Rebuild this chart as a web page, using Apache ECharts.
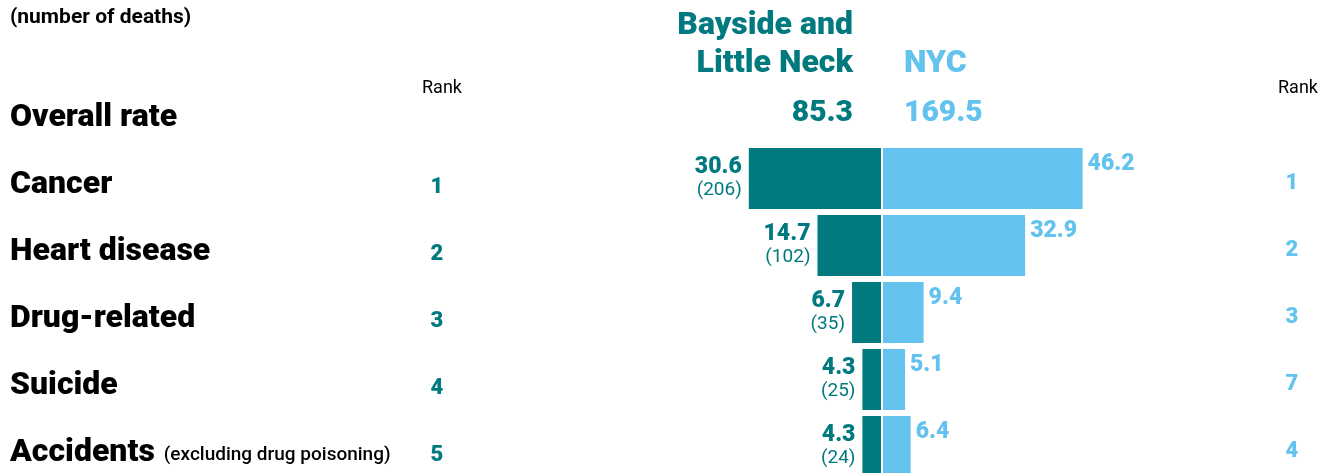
<!DOCTYPE html>
<html>
<head>
<meta charset="utf-8">
<script src="https://cdn.jsdelivr.net/npm/echarts@6/dist/echarts.min.js"></script>
<style>
  html, body { margin: 0; padding: 0; background: #fff; }
  #chart { width: 1325px; height: 473px; }
</style>
</head>
<body>
<div id="chart"></div>
<script>
// Leading causes of death: local rate vs. citywide rate
const causes = ['Cancer', 'Heart disease', 'Drug-related', 'Suicide', 'Accidents'];
const causeNotes = ['', '', '', '', '(excluding drug poisoning)'];
const localRates = [30.6, 14.7, 6.7, 4.3, 4.3];
const localDeaths = [206, 102, 35, 25, 24];
const nycRates = [46.2, 32.9, 9.4, 5.1, 6.4];
const localRanks = [1, 2, 3, 4, 5];
const nycRanks = [1, 2, 3, 7, 4];
const overallLocal = 85.3;
const overallNyc = 169.5;
const localName = 'Bayside and\nLittle Neck';
const nycName = 'NYC';

const TEAL = '#00797f';
const SKY = '#63c2ee';
const FONT = 'Roboto, "Noto Sans", sans-serif';

// first row carries the overall rate only, no bars
const rows = ['Overall rate'].concat(causes);
const localData = [null].concat(localRates);
const nycData = [null].concat(nycRates);

const chart = echarts.init(document.getElementById('chart'), null, { renderer: 'canvas' });

const hiddenValueAxis = (grid, inverse) => ({
  type: 'value', gridIndex: grid, min: 0, max: 50, inverse: inverse,
  axisLine: { show: false }, axisTick: { show: false },
  axisLabel: { show: false }, splitLine: { show: false }
});

const catAxisBase = (grid, position) => ({
  type: 'category', gridIndex: grid, data: rows, inverse: true, position: position,
  axisLine: { show: false }, axisTick: { show: false }, splitLine: { show: false }
});

const headerText = (text, x, y, color, align, size) => ({
  type: 'text', x: x, y: y, silent: true,
  style: {
    text: text, fill: color, align: align, verticalAlign: 'middle',
    font: '900 ' + size + 'px ' + FONT
  }
});

chart.setOption({
  animation: false,
  backgroundColor: '#fff',
  grid: [
    { left: 665, width: 216, top: 78, height: 402, outerBoundsMode: 'none' },
    { left: 883, width: 216, top: 78, height: 402, outerBoundsMode: 'none' }
  ],
  xAxis: [hiddenValueAxis(0, true), hiddenValueAxis(1, false)],
  yAxis: [
    Object.assign(catAxisBase(0, 'left'), {
      axisLabel: {
        interval: 0, margin: 655, align: 'left', padding: [12, 0, 0, 0],
        formatter: (v, i) => {
          const note = i > 0 ? causeNotes[i - 1] : '';
          return note ? '{b|' + v + '}{s|' + note + '}' : '{b|' + v + '}';
        },
        rich: {
          b: { fontFamily: FONT, fontWeight: 900, fontSize: 32, color: '#000' },
          s: { fontFamily: FONT, fontWeight: 500, fontSize: 19, color: '#000', padding: [6, 0, 0, 9] }
        }
      }
    }),
    Object.assign(catAxisBase(0, 'left'), {
      axisLabel: {
        interval: 0, margin: 228, align: 'center', verticalAlign: 'top', lineHeight: 17,
        color: TEAL, fontFamily: FONT, fontWeight: 900, fontSize: 22,
        formatter: (v, i) => (i > 0 ? String(localRanks[i - 1]) : '')
      }
    }),
    Object.assign(catAxisBase(1, 'right'), {
      axisLabel: {
        interval: 0, margin: 193, align: 'center', verticalAlign: 'top', lineHeight: 9,
        color: SKY, fontFamily: FONT, fontWeight: 900, fontSize: 22,
        formatter: (v, i) => (i > 0 ? String(nycRanks[i - 1]) : '')
      }
    })
  ],
  series: [
    {
      type: 'bar', xAxisIndex: 0, yAxisIndex: 0, data: localData,
      barWidth: 61, itemStyle: { color: TEAL },
      label: {
        show: true, position: 'left', distance: 7, align: 'right',
        formatter: p => '{v|' + p.value + '}\n{n|(' + localDeaths[p.dataIndex - 1] + ')}',
        rich: {
          v: { fontFamily: FONT, fontWeight: 900, fontSize: 23, lineHeight: 24, color: TEAL, align: 'right' },
          n: { fontFamily: FONT, fontWeight: 400, fontSize: 19, lineHeight: 22, color: TEAL, align: 'right' }
        }
      }
    },
    {
      type: 'bar', xAxisIndex: 1, yAxisIndex: 2, data: nycData,
      barWidth: 61, itemStyle: { color: SKY },
      label: {
        show: true, position: 'right', distance: 5, offset: [0, -14],
        color: SKY, fontFamily: FONT, fontWeight: 900, fontSize: 23
      }
    }
  ],
  graphic: [
    {
      type: 'text', x: 10, y: 18, silent: true,
      style: { text: '(number of deaths)', fill: '#000', verticalAlign: 'middle',
               font: '700 21px ' + FONT }
    },
    headerText(localName.split('\n')[0], 853, 26, TEAL, 'right', 32),
    headerText(localName.split('\n')[1], 853, 64, TEAL, 'right', 32),
    headerText(nycName, 904, 64, SKY, 'left', 32),
    headerText(String(overallLocal), 853, 113, TEAL, 'right', 30),
    headerText(String(overallNyc), 904, 113, SKY, 'left', 30),
    {
      type: 'text', x: 442, y: 88, silent: true,
      style: { text: 'Rank', fill: '#000', align: 'center', verticalAlign: 'middle',
               font: '400 18px ' + FONT }
    },
    {
      type: 'text', x: 1298, y: 88, silent: true,
      style: { text: 'Rank', fill: '#000', align: 'center', verticalAlign: 'middle',
               font: '400 18px ' + FONT }
    }
  ]
});
</script>
</body>
</html>
